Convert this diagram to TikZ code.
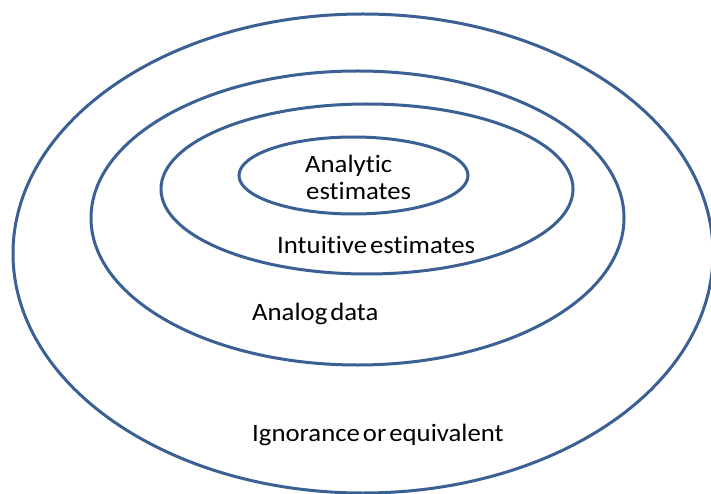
\documentclass[tikz,border=0pt]{standalone}
\usepackage{fontspec}
\setmainfont{Carlito}[FakeStretch=1.07,Ligatures=NoCommon]
\definecolor{ringblue}{HTML}{3B6093}
\newcommand\lblfont{\fontsize{25}{28}\selectfont}
\newcommand\gapsp{\hspace{0.12em}}
\begin{document}
\begin{tikzpicture}[x=1pt,y=-1pt,
  ring/.style={draw=ringblue,line width=3pt},
  lbl/.style={inner sep=0pt,anchor=base west,font=\lblfont}]
\useasboundingbox (0,0) rectangle (711,494);
\fill[white] (0,0) rectangle (711,494);
\draw[ring] (363,253.5) ellipse [x radius=350, y radius=239.5];
\draw[ring] (357.5,218) ellipse [x radius=266.5, y radius=147];
\draw[ring] (367,189) ellipse [x radius=206, y radius=85];
\draw[ring] (353.5,175.5) ellipse [x radius=114.5, y radius=38.5];
\node[lbl] (a1) at (305,173) {Analytic};
\node[lbl] (a2) at (306,200) {estimates};
\node[lbl] (b) at (277,253) {Intuitive\gapsp estimates};
\node[lbl] (c) at (252,320) {Analog\gapsp data};
\node[lbl] (d) at (252,441) {Ignorance\gapsp or\gapsp equivalent};
\end{tikzpicture}
\end{document}
